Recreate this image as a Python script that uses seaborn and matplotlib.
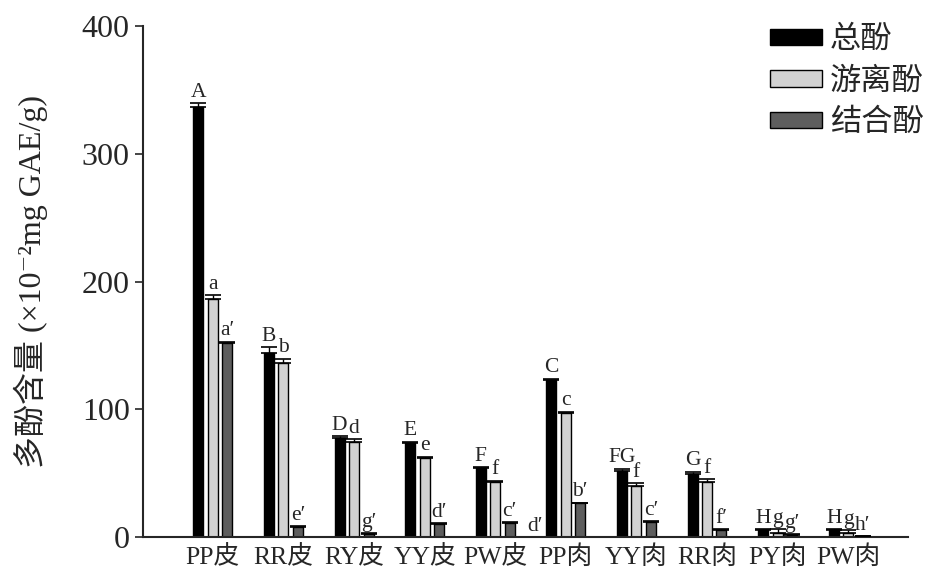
import matplotlib
matplotlib.use("Agg")
import matplotlib.pyplot as plt
import pandas as pd
import seaborn as sns

# data
samples = ['PP皮', 'RR皮', 'RY皮', 'YY皮', 'PW皮', 'PP肉', 'YY肉', 'RR肉', 'PY肉', 'PW肉']
series = ['总酚', '游离酚', '结合酚']

total = [337, 144, 77.5, 73.5, 54, 123, 52, 49, 5.5, 5.5]
total_err = [2.5, 4.5, 1.5, 1, 0.5, 1, 1.5, 2, 0.5, 0.5]
free = [186, 136, 74.5, 62, 43, 97, 40, 43, 3, 3]
free_err = [3.5, 3.5, 2, 1, 1, 1, 2, 2.5, 3, 2.5]
bound = [152, 8, 2.5, 10.5, 11, 26.5, 12, 5.5, 1.5, 0.5]
bound_err = [1, 0.5, 0.5, 0.5, 0.5, 0.5, 0.5, 0.5, 0.5, 0.3]

total_lab = ['A', 'B', 'D', 'E', 'F', 'C', 'FG', 'G', 'H', 'H']
free_lab = ['a', 'b', 'd', 'e', 'f', 'c', 'f', 'f', 'g', 'g']
bound_lab = ['a′', 'e′', 'g′', 'd′', 'c′', 'b′', 'c′', 'f′', 'g′', 'h′']

colors = ['#000000', '#d2d2d2', '#5e5e5e']

sns.set_style('ticks')
plt.rcParams['font.family'] = ['Liberation Serif', 'Noto Sans CJK SC', 'DejaVu Serif']

df = pd.DataFrame({
    'sample': samples * 3,
    'type': [series[0]] * 10 + [series[1]] * 10 + [series[2]] * 10,
    'value': total + free + bound,
})

fig = plt.figure(figsize=(9.47, 5.79), dpi=100)
ax = fig.add_axes([0.151, 0.0725, 0.808, 0.8825])

sns.barplot(data=df, x='sample', y='value', hue='type', palette=colors,
            width=0.615, gap=0.31, edgecolor='black', linewidth=1,
            errorbar=None, ax=ax)

errs = [total_err, free_err, bound_err]
labs = [total_lab, free_lab, bound_lab]
for cont, err, lab in zip(ax.containers, errs, labs):
    for bar, e, t in zip(cont.patches, err, lab):
        x = bar.get_x() + bar.get_width() / 2
        h = bar.get_height()
        ax.errorbar(x, h, yerr=[[0], [e]], fmt='none', ecolor='black',
                    elinewidth=1, capsize=6, capthick=1.2, zorder=3)
        ax.annotate(t, (x, h + e), xytext=(0, 1), textcoords='offset points',
                    ha='center', va='bottom', fontsize=15.5)

# extra "d′" beside the PW皮 bound-phenol bar
pw_bar = ax.containers[2].patches[4]
ax.annotate('d′', (pw_bar.get_x() + pw_bar.get_width(), 0),
            xytext=(9, 1), textcoords='offset points',
            ha='left', va='bottom', fontsize=15.5)

ax.set_ylim(0, 400)
ax.set_xlim(-0.99, 9.85)
ax.set_yticks([0, 100, 200, 300, 400])
ax.tick_params(axis='y', labelsize=23, length=6, width=1.2, direction='out')
ax.tick_params(axis='x', labelsize=18.5, length=0, pad=6)
ax.set_xlabel('')
ax.set_ylabel('多酚含量 (×10⁻²mg GAE/g)', fontsize=23, labelpad=24)
sns.despine(ax=ax)
for s in ['left', 'bottom']:
    ax.spines[s].set_linewidth(1.5)

handles, labels = ax.get_legend_handles_labels()
ax.get_legend().remove()
fig.legend(handles, labels, loc='upper right', bbox_to_anchor=(0.975, 0.955),
           frameon=False, fontsize=22.5, handlelength=1.65, handleheight=0.45,
           handletextpad=0.25, labelspacing=0.4, borderpad=0, borderaxespad=0)

fig.savefig('out.png', dpi=100)
